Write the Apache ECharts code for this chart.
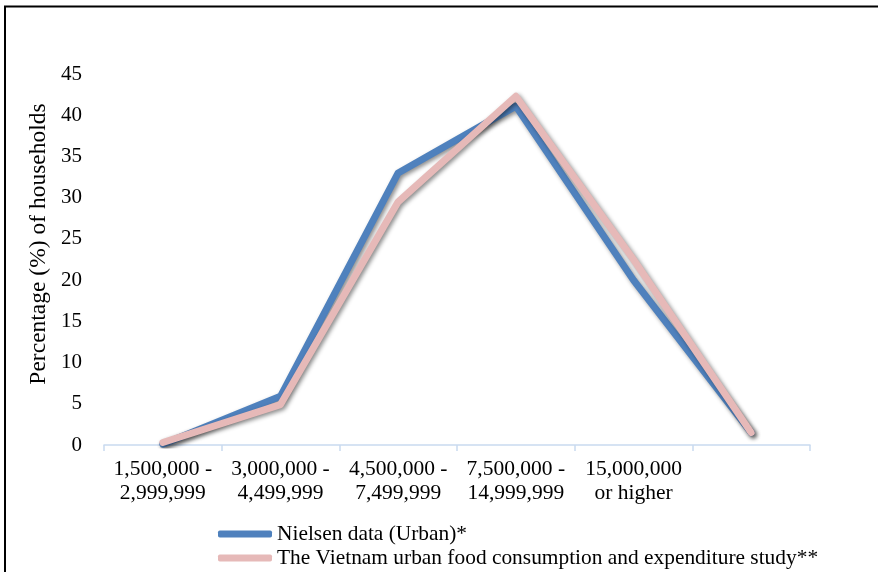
<!DOCTYPE html>
<html>
<head>
<meta charset="utf-8">
<script src="https://cdn.jsdelivr.net/npm/echarts@6/dist/echarts.min.js"></script>
<style>
  html, body { margin: 0; padding: 0; background: #fff; }
  #chart { width: 878px; height: 572px; }
</style>
</head>
<body>
<div id="chart"></div>
<script>
// Monthly household income bands (VND); the last band carries no label
const categories = [
  '1,500,000 -\n2,999,999',
  '3,000,000 -\n4,499,999',
  '4,500,000 -\n7,499,999',
  '7,500,000 -\n14,999,999',
  '15,000,000\nor higher',
  ''
];
const nielsenUrban = [0.1, 5.9, 33.0, 41.1, 20.0, 1.5];
const vietnamStudy = [0.3, 4.9, 29.5, 42.3, 22.5, 1.5];
const seriesNames = [
  'Nielsen data (Urban)*',
  'The Vietnam urban food consumption and expenditure study**'
];
const yAxisTitle = 'Percentage (%) of households';

const serif = '"Liberation Serif", "Times New Roman", serif';
const lineShadow = {
  shadowColor: 'rgba(0,0,0,0.45)',
  shadowBlur: 4,
  shadowOffsetX: 2,
  shadowOffsetY: 2
};

const chart = echarts.init(document.getElementById('chart'), null, { renderer: 'canvas' });
chart.setOption({
  backgroundColor: '#ffffff',
  animation: false,
  grid: { left: 104, right: 68, top: 74, bottom: 127 },
  legend: {
    orient: 'vertical',
    left: 218,
    top: 523,
    height: 49,
    itemWidth: 54,
    itemHeight: 7,
    itemGap: 2,
    padding: 0,
    icon: 'roundRect',
    textStyle: { fontFamily: serif, fontSize: 21.4, color: '#000', lineHeight: 22 },
    data: seriesNames
  },
  xAxis: {
    type: 'category',
    data: categories,
    boundaryGap: true,
    axisLine: { lineStyle: { color: '#C9DAF0', width: 1.5 } },
    axisTick: { show: true, length: 6, lineStyle: { color: '#C9DAF0', width: 1.5 } },
    axisLabel: {
      fontFamily: serif, fontSize: 21.5, color: '#000',
      lineHeight: 24, margin: 12, interval: 0
    },
    splitLine: { show: false }
  },
  yAxis: {
    type: 'value',
    min: 0,
    max: 45,
    interval: 5,
    axisLine: { show: false },
    axisTick: { show: false },
    splitLine: { show: false },
    axisLabel: { fontFamily: serif, fontSize: 21, color: '#000', margin: 22 }
  },
  series: [
    {
      name: seriesNames[0],
      type: 'line',
      data: nielsenUrban,
      showSymbol: false,
      symbol: 'none',
      color: '#4F81BD',
      lineStyle: Object.assign({ width: 7, color: '#4F81BD', cap: 'round', join: 'round' }, lineShadow),
      z: 2
    },
    {
      name: seriesNames[1],
      type: 'line',
      data: vietnamStudy,
      showSymbol: false,
      symbol: 'none',
      color: '#E6B9B8',
      lineStyle: Object.assign({ width: 7, color: '#E6B9B8', cap: 'round', join: 'round' }, lineShadow),
      z: 3
    }
  ],
  graphic: [
    {
      // frame around the figure (top and left edges)
      type: 'polyline',
      shape: { points: [[5, 572], [5, 6.5], [878, 6.5]] },
      style: { stroke: '#000', lineWidth: 2, fill: null },
      silent: true
    },
    {
      // vertical axis title
      type: 'text',
      x: 39,
      y: 244,
      rotation: Math.PI / 2,
      style: {
        text: yAxisTitle,
        fontFamily: serif,
        fontSize: 23.5,
        fill: '#000',
        align: 'center',
        verticalAlign: 'middle'
      },
      silent: true
    }
  ]
});
</script>
</body>
</html>
